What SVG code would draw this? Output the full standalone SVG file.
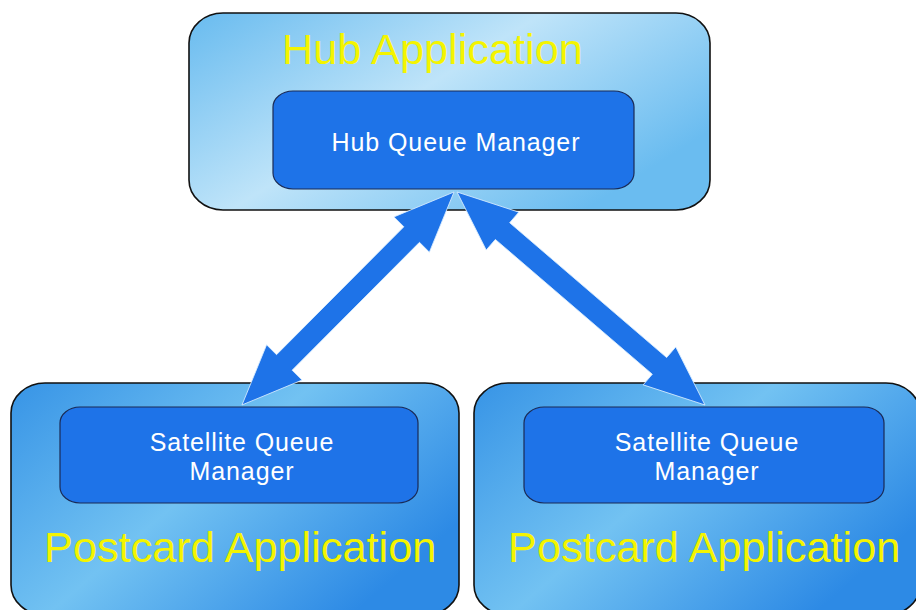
<svg xmlns="http://www.w3.org/2000/svg" width="916" height="610" viewBox="0 0 916 610">
<defs>
<linearGradient id="gHub" x1="0" y1="0" x2="1" y2="0.6">
<stop offset="0" stop-color="#68bbef"/>
<stop offset="0.5" stop-color="#bfe4f9"/>
<stop offset="1" stop-color="#6abcf0"/>
</linearGradient>
<linearGradient id="gPost" x1="0" y1="0" x2="1" y2="0.6">
<stop offset="0" stop-color="#3794e6"/>
<stop offset="0.5" stop-color="#72c2f2"/>
<stop offset="1" stop-color="#2d8ae5"/>
</linearGradient>
<style>
.outer{stroke:#111;stroke-width:1.6}
.inner{fill:#1e73e8;stroke:#1a2a55;stroke-width:1.2}
.big{font-family:"Liberation Sans",Arial,sans-serif;font-size:43.3px;fill:#f4f400}
.qm{font-family:"Liberation Sans",Arial,sans-serif;font-size:25px;fill:#ffffff;letter-spacing:0.9px;text-anchor:middle}
.arrow{fill:#1e73e8;stroke:#d8ecff;stroke-width:0.8}
</style>
</defs>
<rect width="916" height="610" fill="#ffffff"/>
<g id="hub">
<rect class="outer" x="189" y="13" width="521" height="197" rx="34" ry="30" fill="url(#gHub)"/>
<text class="big" x="282" y="64">Hub Application</text>
</g>
<g id="hubqm">
<rect class="inner" x="273" y="91" width="361" height="98" rx="20" ry="16"/>
<text class="qm" x="456" y="151">Hub Queue Manager</text>
</g>
<g id="postcard-left">
<rect class="outer" x="11" y="383" width="448" height="232" rx="34" ry="30" fill="url(#gPost)"/>
<text class="big" x="44" y="562">Postcard Application</text>
</g>
<g id="satqm-left">
<rect class="inner" x="60" y="407" width="358" height="96" rx="20" ry="16"/>
<text class="qm" x="242" y="451">Satellite Queue</text>
<text class="qm" x="242" y="480">Manager</text>
</g>
<g id="postcard-right">
<rect class="outer" x="474" y="383" width="446" height="232" rx="34" ry="30" fill="url(#gPost)"/>
<text class="big" x="508" y="562">Postcard Application</text>
</g>
<g id="satqm-right">
<rect class="inner" x="524" y="407" width="360" height="96" rx="20" ry="16"/>
<text class="qm" x="707" y="451">Satellite Queue</text>
<text class="qm" x="707" y="480">Manager</text>
</g>
<g id="connectors">
<polygon class="arrow" transform="translate(454,192) rotate(134.87)" points="0,0 60,-25 60,-11 240.5,-11 240.5,-25 300.5,0 240.5,25 240.5,11 60,11 60,25"/>
<polygon class="arrow" transform="translate(457,192) rotate(40.66)" points="0,0 60,-25 60,-11 266.9,-11 266.9,-25 326.9,0 266.9,25 266.9,11 60,11 60,25"/>
</g>
</svg>
